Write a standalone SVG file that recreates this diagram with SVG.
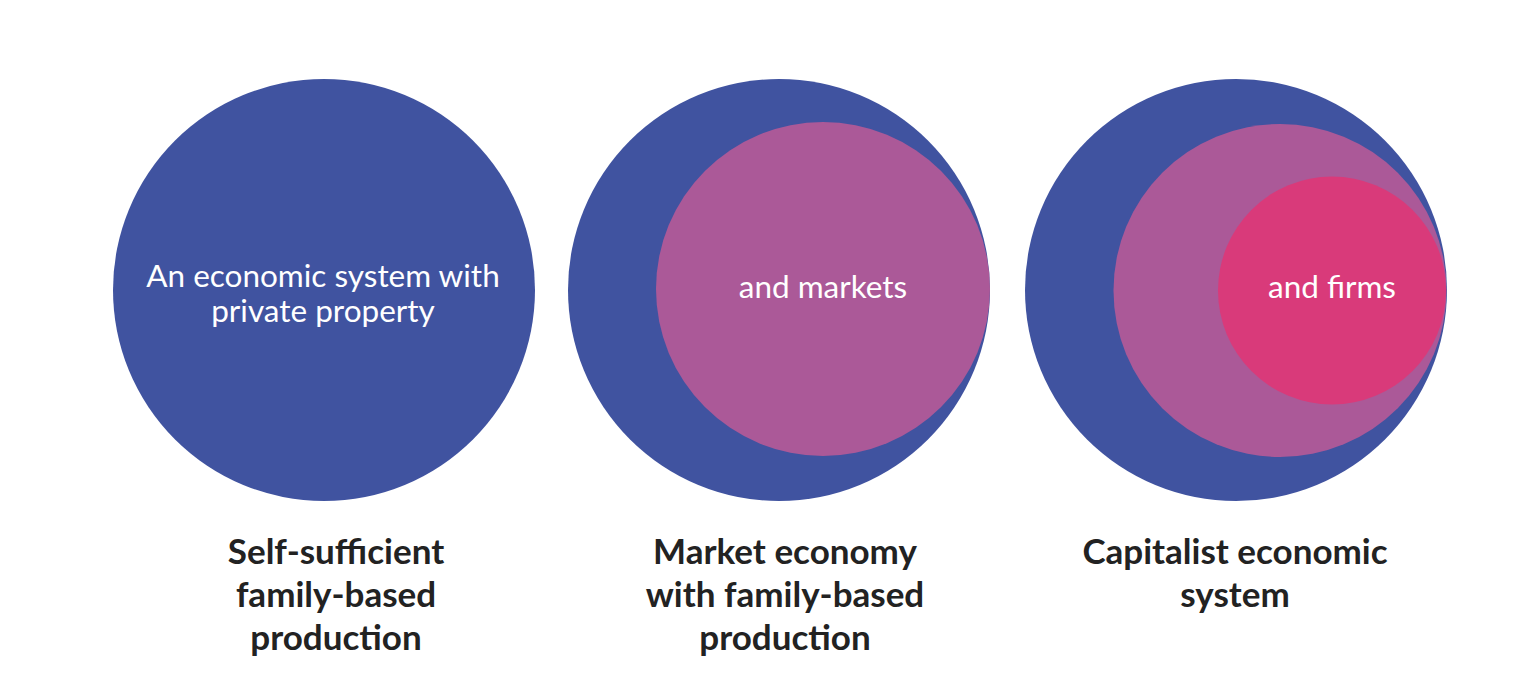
<svg xmlns="http://www.w3.org/2000/svg" width="1535" height="688" viewBox="0 0 1535 688">
<style>
.blue{fill:#4053A0}
.purple{fill:#AB5998}
.pink{fill:#D93A7A}
.in{font-family:Lato,"Open Sans","Liberation Sans",sans-serif;font-size:31.5px;fill:#ffffff;text-anchor:middle}
.lbl{font-family:Lato,"Open Sans","Liberation Sans",sans-serif;font-size:35px;font-weight:bold;fill:#222222;text-anchor:middle}
</style>
<rect width="1535" height="688" fill="#ffffff"/>
<g id="node-self-sufficient">
<circle class="blue" cx="324" cy="290" r="211"/>
<text class="in" x="323" y="287">An economic system with</text>
<text class="in" x="323" y="322">private property</text>
<text class="lbl" x="336" y="564">Self-sufficient</text>
<text class="lbl" x="336" y="607">family-based</text>
<text class="lbl" x="336" y="650">production</text>
</g>
<g id="node-market-economy">
<circle class="blue" cx="779" cy="290" r="211"/>
<circle class="purple" cx="823" cy="289" r="167"/>
<text class="in" x="823" y="298">and markets</text>
<text class="lbl" x="785" y="564">Market economy</text>
<text class="lbl" x="785" y="607">with family-based</text>
<text class="lbl" x="785" y="650">production</text>
</g>
<g id="node-capitalist">
<circle class="blue" cx="1236" cy="290" r="211"/>
<circle class="purple" cx="1280" cy="290.5" r="166.5"/>
<circle class="pink" cx="1332" cy="290.5" r="114"/>
<text class="in" x="1332" y="298">and firms</text>
<text class="lbl" x="1235" y="564">Capitalist economic</text>
<text class="lbl" x="1235" y="607">system</text>
</g>
<g id="connectors"></g>
</svg>
